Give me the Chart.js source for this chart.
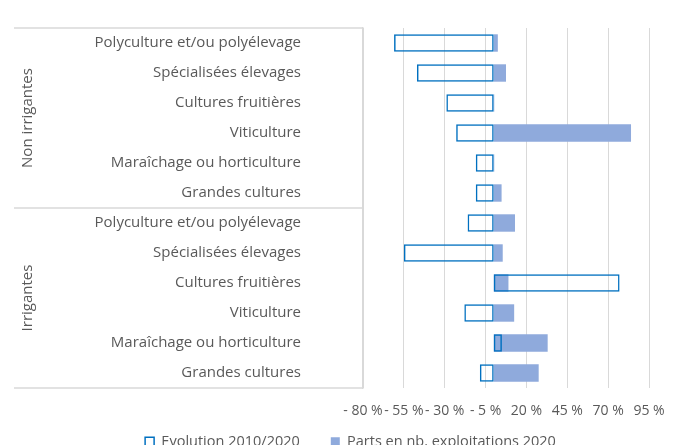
<!DOCTYPE html>
<html>
<head>
<meta charset="utf-8">
<script src="https://cdn.jsdelivr.net/npm/chart.js@4"></script>
<style>
  html, body { margin: 0; padding: 0; background: #fff; overflow: hidden; }
  #wrap { width: 680px; height: 476px; position: relative; }
</style>
</head>
<body>
<div id="wrap"><canvas id="chart"></canvas></div>
<script>
const groups = ['Non irrigantes', 'Irrigantes'];
const categories = [
  'Polyculture et/ou polyélevage',
  'Spécialisées élevages',
  'Cultures fruitières',
  'Viticulture',
  'Maraîchage ou horticulture',
  'Grandes cultures',
  'Polyculture et/ou polyélevage',
  'Spécialisées élevages',
  'Cultures fruitières',
  'Viticulture',
  'Maraîchage ou horticulture',
  'Grandes cultures'
];
const evolution = [-61, -47, -29, -23, -11, -11, -16, -55, 77, -18, 5, -8.5];
const parts = [2.5, 7.5, 0.3, 84, 0.3, 4.8, 13, 5.5, 9, 12.5, 33, 27.5];
const xTicks = [-80, -55, -30, -5, 20, 45, 70, 95];

const textColor = '#595959';
const lineColor = '#d9d9d9';
const fontFamily = '"Open Sans", "Noto Sans", sans-serif';

// Excel-style two-level category axis: group names + separator lines
const groupLabels = {
  id: 'groupLabels',
  afterDraw(chart) {
    const ctx = chart.ctx;
    const area = chart.chartArea;
    const y = chart.scales.y;
    const mid = (y.getPixelForTick(5) + y.getPixelForTick(6)) / 2;
    ctx.save();
    ctx.strokeStyle = lineColor;
    ctx.lineWidth = 1.5;
    [area.top, mid, area.bottom].forEach(py => {
      ctx.beginPath();
      ctx.moveTo(14, py);
      ctx.lineTo(area.left, py);
      ctx.stroke();
    });
    ctx.fillStyle = textColor;
    ctx.font = '15px ' + fontFamily;
    ctx.textAlign = 'center';
    ctx.textBaseline = 'middle';
    [[area.top, mid], [mid, area.bottom]].forEach(([a, b], i) => {
      ctx.save();
      ctx.translate(27.5, (a + b) / 2);
      ctx.rotate(-Math.PI / 2);
      ctx.fillText(groups[i], 0, 0);
      ctx.restore();
    });
    ctx.restore();
  }
};

// legend sits lower than the tick labels allow, and its items are spread wider than its row padding
const legendShift = {
  id: 'legendShift',
  afterLayout(chart) {
    const lg = chart.legend;
    lg.top -= 17;
    lg.bottom -= 17;
    lg.left += 19;
    lg.right += 19;
  }
};

new Chart(document.getElementById('chart'), {
  type: 'bar',
  data: {
    labels: categories,
    datasets: [
      {
        label: 'Evolution 2010/2020',
        data: evolution,
        backgroundColor: 'rgba(255,255,255,0)',
        borderColor: '#0070C0',
        borderWidth: 1.5,
        borderSkipped: false
      },
      {
        label: 'Parts en nb. exploitations 2020',
        data: parts,
        backgroundColor: '#8FAADC',
        borderWidth: 0
      }
    ]
  },
  options: {
    indexAxis: 'y',
    responsive: true,
    maintainAspectRatio: false,
    animation: false,
    datasets: {
      bar: { grouped: false, categoryPercentage: 1, barPercentage: 0.58 }
    },
    layout: { padding: { left: 14, right: 31, top: 28, bottom: 0 } },
    scales: {
      x: {
        min: -80,
        max: 95,
        afterBuildTicks: scale => { scale.ticks = xTicks.map(v => ({ value: v })); },
        afterFit: scale => { scale.height = 32.5; },
        grid: { color: lineColor, lineWidth: 1, drawTicks: true, tickLength: 15, tickColor: 'rgba(0,0,0,0)' },
        border: { display: false },
        ticks: {
          autoSkip: false,
          maxRotation: 0,
          minRotation: 0,
          padding: 0,
          color: textColor,
          font: { family: fontFamily, size: 14 },
          callback: v => (v < 0 ? '- ' + Math.abs(v) : v) + ' %'
        }
      },
      y: {
        afterFit: scale => { scale.width = 349; },
        grid: { display: false, drawTicks: true, tickLength: 62 },
        border: { display: true, color: lineColor, width: 1.5 },
        ticks: {
          padding: 0,
          color: textColor,
          font: { family: fontFamily, size: 15 }
        }
      }
    },
    plugins: {
      tooltip: { enabled: false },
      legend: {
        position: 'bottom',
        labels: {
          boxWidth: 9,
          boxHeight: 9,
          padding: 31,
          color: textColor,
          font: { family: fontFamily, size: 14.5 }
        }
      }
    }
  },
  plugins: [groupLabels, legendShift]
});
</script>
</body>
</html>
